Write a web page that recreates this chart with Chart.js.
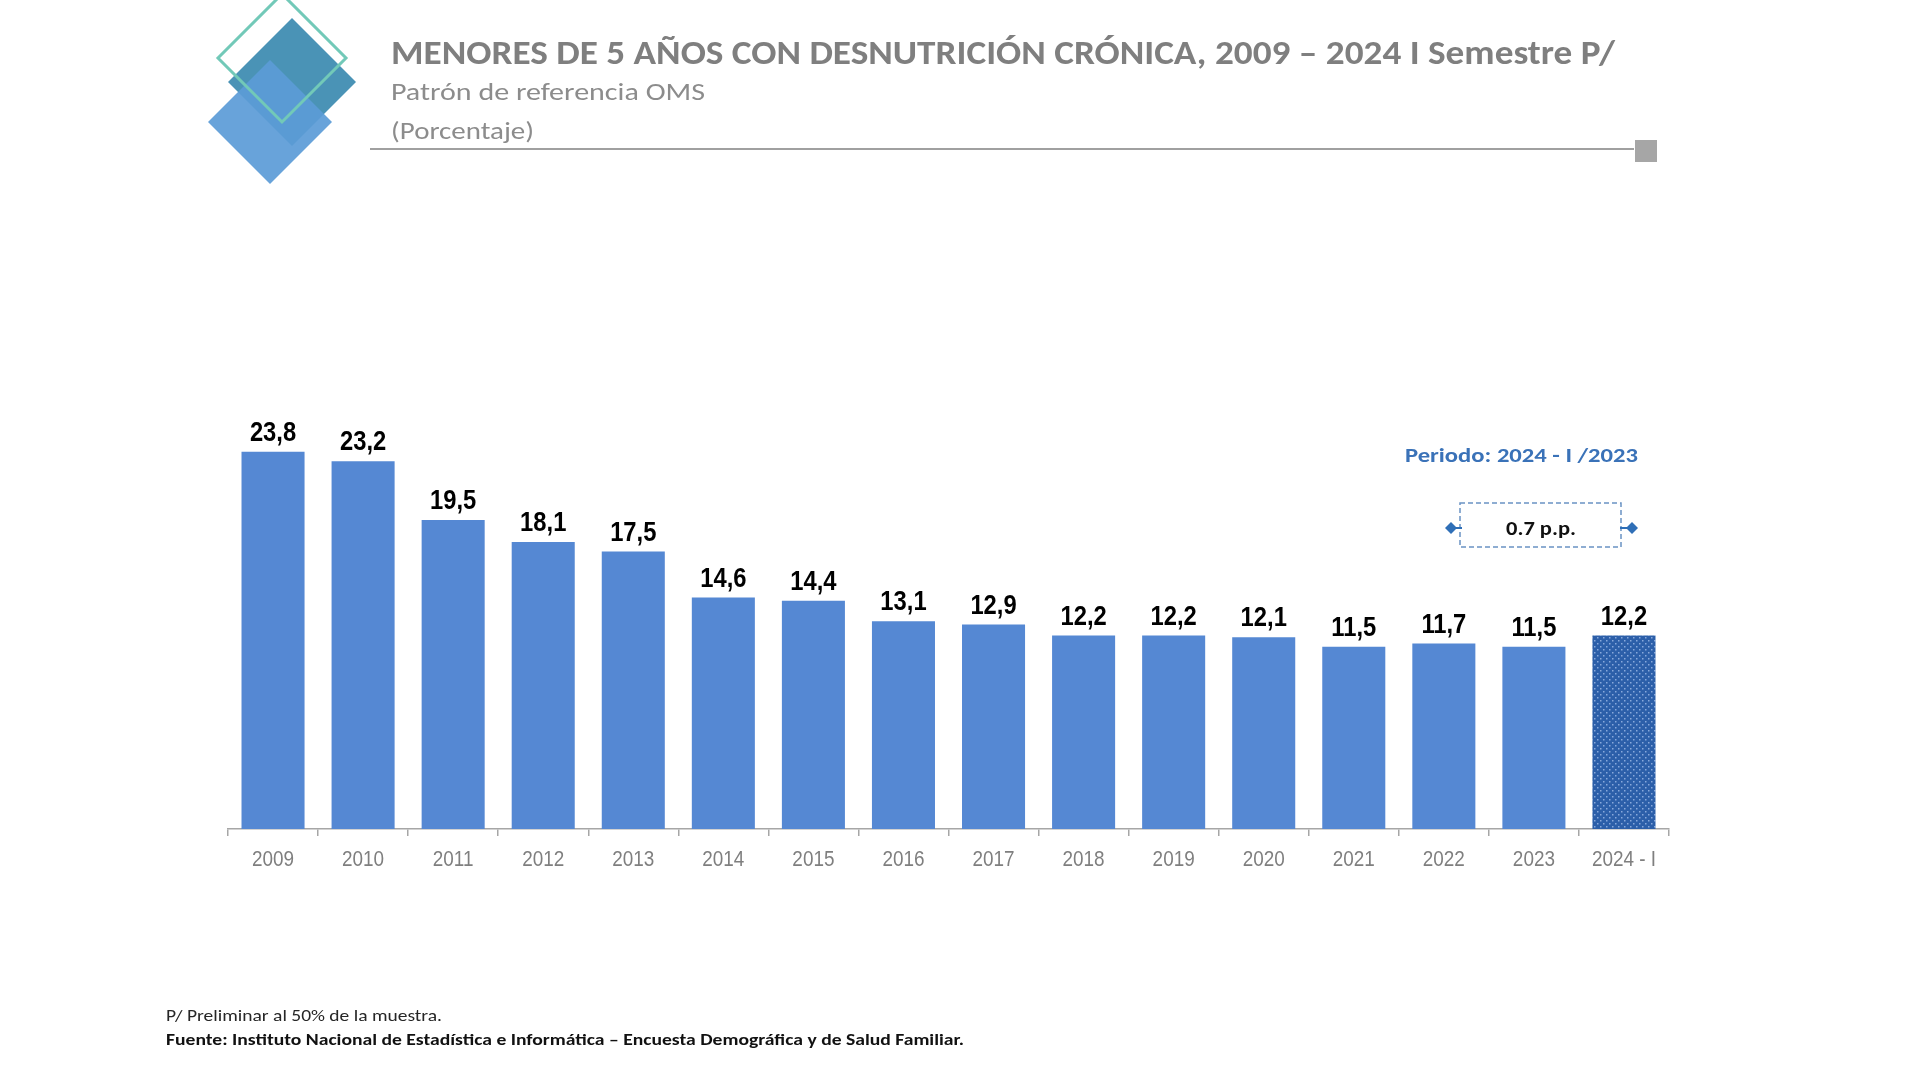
<!DOCTYPE html>
<html>
<head>
<meta charset="utf-8">
<script src="https://cdn.jsdelivr.net/npm/chart.js@4"></script>
<style>
  html, body { margin: 0; padding: 0; background: #ffffff; }
  canvas { display: block; }
</style>
</head>
<body>
<canvas id="c" width="1920" height="1080"></canvas>
<script>
// ---- DATA ----
const categories = ['2009','2010','2011','2012','2013','2014','2015','2016','2017','2018','2019','2020','2021','2022','2023','2024 - I'];
const values = [23.8, 23.2, 19.5, 18.1, 17.5, 14.6, 14.4, 13.1, 12.9, 12.2, 12.2, 12.1, 11.5, 11.7, 11.5, 12.2];
const titleText = 'MENORES DE 5 AÑOS CON DESNUTRICIÓN CRÓNICA, 2009 – 2024 I Semestre P/';
const subtitleText = 'Patrón de referencia OMS';
const unitText = '(Porcentaje)';
const noteText = 'P/ Preliminar al 50% de la muestra.';
const sourceText = 'Fuente: Instituto Nacional de Estadística e Informática – Encuesta Demográfica y de Salud Familiar.';
const periodText = 'Periodo: 2024 - I /2023';
const diffText = '0.7 p.p.';

const HUM = "Carlito, Lato, 'Open Sans', sans-serif";
const NARROW = "'Liberation Sans Narrow', 'Arial Narrow', 'Liberation Sans', Arial, sans-serif";

function fitText(ctx, text, x, y, font, width, color) {
  ctx.save();
  ctx.font = font;
  ctx.textAlign = 'left';
  ctx.textBaseline = 'alphabetic';
  const w = ctx.measureText(text).width;
  const s = width / w;
  ctx.translate(x, y);
  ctx.scale(s, 1);
  ctx.fillStyle = color;
  ctx.fillText(text, 0, 0);
  ctx.restore();
}

function centerFit(ctx, text, cx, y, font, width, color) {
  fitText(ctx, text, cx - width / 2, y, font, width, color);
}

function diamond(ctx, cx, cy, h) {
  ctx.beginPath();
  ctx.moveTo(cx, cy - h);
  ctx.lineTo(cx + h, cy);
  ctx.lineTo(cx, cy + h);
  ctx.lineTo(cx - h, cy);
  ctx.closePath();
}

function makePattern() {
  const t = document.createElement('canvas');
  t.width = 6; t.height = 6;
  const g = t.getContext('2d');
  g.fillStyle = '#2c5fa9';
  g.fillRect(0, 0, 6, 6);
  g.fillStyle = '#88a9dc';
  g.fillRect(1, 1, 1.5, 1.5);
  g.fillRect(4, 4, 1.5, 1.5);
  return document.getElementById('c').getContext('2d').createPattern(t, 'repeat');
}

const decor = {
  id: 'decor',
  beforeDraw(chart) {
    const ctx = chart.ctx;
    ctx.save();
    ctx.fillStyle = '#ffffff';
    ctx.fillRect(0, 0, chart.width, chart.height);

    // logo
    ctx.fillStyle = '#4a93b6';
    diamond(ctx, 292, 82, 64); ctx.fill();
    ctx.globalAlpha = 0.92;
    ctx.fillStyle = '#5b9bd7';
    diamond(ctx, 270, 122, 62); ctx.fill();
    ctx.globalAlpha = 1;
    ctx.strokeStyle = '#72c9b8';
    ctx.lineWidth = 3;
    diamond(ctx, 282, 58, 64); ctx.stroke();

    // title block
    fitText(ctx, titleText, 391, 64, "bold 34px " + HUM, 1224, '#7f7f7f');
    fitText(ctx, subtitleText, 391, 100, "24px " + HUM, 314, '#8c8c8c');
    fitText(ctx, unitText, 391, 139, "24px " + HUM, 143, '#8c8c8c');

    ctx.strokeStyle = '#a0a0a0';
    ctx.lineWidth = 2;
    ctx.beginPath(); ctx.moveTo(370, 149); ctx.lineTo(1634, 149); ctx.stroke();
    ctx.fillStyle = '#a6a6a6';
    ctx.fillRect(1635, 140, 22, 22);

    // footer
    fitText(ctx, noteText, 166, 1021, "16px " + HUM, 276, '#262626');
    fitText(ctx, sourceText, 166, 1045, "bold 16px " + HUM, 798, '#111111');

    // annotation
    fitText(ctx, periodText, 1405, 462, "bold 21px " + HUM, 233, '#3a72b8');
    ctx.setLineDash([5, 3]);
    ctx.strokeStyle = '#6a93c4';
    ctx.lineWidth = 1.5;
    ctx.strokeRect(1460, 503, 161, 44);
    ctx.setLineDash([]);
    fitText(ctx, diffText, 1506, 535, "bold 20px " + HUM, 70, '#111111');
    ctx.fillStyle = '#2f6fb7';
    ctx.strokeStyle = '#2f6fb7';
    ctx.lineWidth = 2;
    ctx.beginPath(); ctx.moveTo(1451, 528); ctx.lineTo(1462, 528); ctx.stroke();
    diamond(ctx, 1451, 528, 6); ctx.fill();
    ctx.beginPath(); ctx.moveTo(1620, 528); ctx.lineTo(1632, 528); ctx.stroke();
    diamond(ctx, 1632, 528, 6); ctx.fill();
    ctx.restore();
  }
};

const valueLabels = {
  id: 'valueLabels',
  afterDatasetsDraw(chart) {
    const ctx = chart.ctx;
    const meta = chart.getDatasetMeta(0);
    const font = "bold 27px " + NARROW;
    ctx.save();
    ctx.font = font;
    meta.data.forEach((bar, i) => {
      const v = chart.data.datasets[0].data[i];
      const t = v.toFixed(1).replace('.', ',');
      const w = ctx.measureText(t).width * 0.88;
      centerFit(ctx, t, bar.x, bar.y - 11, font, w, '#000000');
    });
    // category labels placed by the x scale
    const xs = chart.scales.x;
    const lfont = "22px " + NARROW;
    ctx.font = lfont;
    categories.forEach((c, i) => {
      const w = ctx.measureText(c).width * 0.86;
      centerFit(ctx, c, xs.getPixelForTick(i), xs.top + 37, lfont, w, '#7f7f7f');
    });
    ctx.restore();
  }
};

function build() {
  const pattern = makePattern();
  const colors = values.map((v, i) => i === values.length - 1 ? pattern : '#5588d3');
  new Chart(document.getElementById('c'), {
    type: 'bar',
    data: {
      labels: categories,
      datasets: [{ data: values, backgroundColor: colors, borderWidth: 0, barPercentage: 0.7, categoryPercentage: 1.0 }]
    },
    options: {
      responsive: false,
      devicePixelRatio: 1,
      animation: false,
      events: [],
      layout: { padding: { left: 228, right: 251, top: 401, bottom: 201 } },
      plugins: { legend: { display: false }, tooltip: { enabled: false }, title: { display: false } },
      scales: {
        x: {
          offset: true,
          grid: { display: true, offset: true, drawOnChartArea: false, drawTicks: true, tickLength: 7, color: '#a6a6a6', lineWidth: 1.5 },
          border: { display: true, color: '#a6a6a6', width: 1.5 },
          ticks: { color: 'rgba(0,0,0,0)', font: { family: NARROW, size: 22 }, padding: 8, maxRotation: 0, autoSkip: false },
          afterFit(s) { s.height = 50; }
        },
        y: { display: false, min: 0, max: 27 }
      }
    },
    plugins: [decor, valueLabels]
  });
}

const loads = [
  "bold 34px Carlito", "24px Carlito", "bold 34px Lato", "24px Lato",
  "22px 'Liberation Sans Narrow'", "bold 27px 'Liberation Sans Narrow'"
].map(f => document.fonts.load(f).catch(() => null));
Promise.all(loads).then(build, build);
</script>
</body>
</html>
